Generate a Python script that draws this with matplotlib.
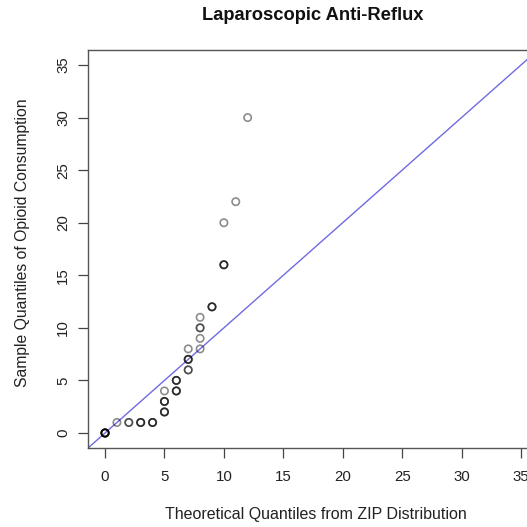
import matplotlib
matplotlib.use("Agg")
import matplotlib.pyplot as plt
import numpy as np

# Theoretical quantiles (ZIP) and sample quantiles (opioid consumption), repeated points included
theoretical = [0, 0, 0, 0, 0, 0,
               1, 2, 2, 3, 3, 3, 4, 4, 4,
               5, 5, 5, 5, 5, 5, 5,
               6, 6, 6, 6, 6, 6,
               7, 7, 7, 7, 7, 7,
               8, 8, 8, 8, 8,
               9, 9, 9,
               10, 10, 10, 10, 11, 12]
sample = [0, 0, 0, 0, 0, 0,
          1, 1, 1, 1, 1, 1, 1, 1, 1,
          2, 2, 2, 3, 3, 3, 4,
          4, 4, 4, 5, 5, 5,
          6, 6, 7, 7, 7, 8,
          8, 9, 10, 10, 11,
          12, 12, 12,
          16, 16, 16, 20, 22, 30]
ticks = [0, 5, 10, 15, 20, 25, 30, 35]

plt.rcParams['font.family'] = ['Liberation Sans', 'DejaVu Sans']

W = 527
fig = plt.figure(figsize=(5.27, 5.27), dpi=100)
ax = fig.add_axes([88.4 / W, (W - 447.7) / W, 449.2 / W, 397.4 / W])

ax.plot([-5, 45], [-5, 45], color='#6f6be0', lw=1.0, zorder=1)
ax.scatter(theoretical, sample, s=28, facecolors='none', edgecolors='black',
           linewidths=1.2, alpha=0.45, zorder=2)

ax.set_xlim(-1.4, 36.4)
ax.set_ylim(-1.4, 36.4)
ax.set_xticks(ticks)
ax.set_yticks(ticks)
ax.set_xticklabels([str(t) for t in ticks])
ax.set_yticklabels([str(t) for t in ticks], rotation=90, va='center')
ax.tick_params(axis='both', direction='out', length=7, width=0.9, color='#444444',
               labelsize=10.8, labelcolor='#222222', pad=6)
ax.tick_params(axis='x', pad=9)
for sp in ax.spines.values():
    sp.set_color('#555555')
    sp.set_linewidth(1.0)

fig.text(313 / W, 1 - 16 / W, 'Laparoscopic Anti-Reflux', ha='center', va='center',
         fontsize=13.2, fontweight='bold', color='#111111')
fig.text(316 / W, 1 - 515 / W, 'Theoretical Quantiles from ZIP Distribution',
         ha='center', va='center', fontsize=11.5, color='#222222')
fig.text(23 / W, 1 - 243 / W, 'Sample Quantiles of Opioid Consumption',
         ha='center', va='center', rotation=90, fontsize=11.3, color='#222222')

fig.savefig('out.png', dpi=100)
